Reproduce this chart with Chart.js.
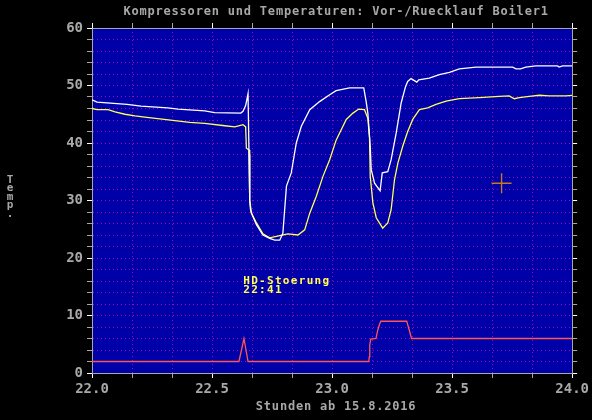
<!DOCTYPE html>
<html>
<head>
<meta charset="utf-8">
<script src="https://cdn.jsdelivr.net/npm/chart.js@4/dist/chart.umd.min.js"></script>
<style>
  html, body { margin: 0; padding: 0; background: #000; }
  #wrap { width: 592px; height: 420px; }
</style>
</head>
<body>
<div id="wrap"><canvas id="boilerChart" width="592" height="420"></canvas></div>
<script>
// Beschriftungen
const chartTitle = 'Kompressoren und Temperaturen: Vor-/Ruecklauf Boiler1';
const xAxisTitle = 'Stunden ab 15.8.2016';
const yAxisTitle = 'Temp.';
const xTickLabels = ['22.0', '22.5', '23.0', '23.5', '24.0'];
const yTickLabels = ['0', '10', '20', '30', '40', '50', '60'];

// Vorlauf (weiss)
const vorlaufStunden = [22.000, 22.021, 22.146, 22.204, 22.316, 22.358, 22.470, 22.511, 22.620, 22.629,
  22.640, 22.650, 22.654, 22.657, 22.660, 22.664, 22.685, 22.712, 22.740, 22.761,
  22.782, 22.795, 22.810, 22.830, 22.851, 22.872, 22.907, 22.948, 22.990, 23.017,
  23.073, 23.132, 23.142, 23.149, 23.159, 23.163, 23.177, 23.200, 23.209, 23.232,
  23.246, 23.267, 23.288, 23.306, 23.315, 23.329, 23.353, 23.361, 23.405, 23.447,
  23.489, 23.530, 23.600, 23.752, 23.766, 23.785, 23.807, 23.849, 23.939, 23.946,
  23.960, 24.000];
const vorlauf = [47.5, 47.1, 46.7, 46.4, 46.1, 45.9, 45.6, 45.3, 45.2, 45.5,
  46.5, 48.6, 38.0, 30.0, 28.5, 27.8, 25.8, 24.0, 23.4, 23.1,
  23.1, 24.3, 32.5, 34.8, 40.0, 42.9, 45.8, 47.2, 48.4, 49.1,
  49.6, 49.6, 47.2, 45.2, 39.4, 35.4, 33.0, 31.7, 34.8, 35.0,
  37.1, 41.7, 47.0, 49.8, 50.7, 51.2, 50.6, 51.0, 51.3, 51.9,
  52.3, 52.9, 53.2, 53.2, 52.9, 52.9, 53.2, 53.4, 53.4, 53.2,
  53.4, 53.4];

// Ruecklauf (gelb)
const ruecklaufStunden = [22.000, 22.021, 22.067, 22.096, 22.137, 22.179, 22.220, 22.283, 22.345, 22.407,
  22.470, 22.553, 22.595, 22.629, 22.640, 22.643, 22.654, 22.657, 22.664, 22.685,
  22.712, 22.740, 22.782, 22.816, 22.858, 22.886, 22.907, 22.934, 22.962, 22.990,
  23.017, 23.059, 23.087, 23.111, 23.135, 23.149, 23.156, 23.159, 23.170, 23.184,
  23.211, 23.232, 23.246, 23.260, 23.274, 23.294, 23.315, 23.336, 23.364, 23.398,
  23.433, 23.475, 23.530, 23.613, 23.696, 23.738, 23.759, 23.780, 23.821, 23.863,
  23.904, 23.974, 24.000];
const ruecklauf = [46.0, 45.8, 45.8, 45.4, 45.0, 44.7, 44.5, 44.2, 43.9, 43.6,
  43.4, 43.0, 42.8, 43.2, 42.8, 39.1, 38.8, 30.1, 27.8, 26.1,
  24.2, 23.5, 23.9, 24.2, 24.0, 24.9, 27.8, 30.7, 34.2, 37.1,
  40.5, 44.1, 45.2, 45.9, 45.8, 44.3, 40.9, 34.2, 29.6, 27.0,
  25.2, 26.1, 28.4, 33.6, 36.5, 39.4, 42.0, 44.1, 45.8, 46.1,
  46.7, 47.3, 47.7, 47.9, 48.1, 48.2, 47.7, 47.9, 48.1, 48.3,
  48.2, 48.2, 48.3];

// Kompressoren (rot)
const kompressorStunden = [22.000, 22.612, 22.633, 22.650, 23.153, 23.155, 23.157, 23.161,
  23.183, 23.190, 23.197, 23.203, 23.311, 23.322, 23.331, 24.000];
const kompressor = [2, 2, 6, 2, 2, 2.8, 4.9, 5.9, 6, 7.4, 8.4, 9, 9, 7.4, 6, 6];

// Markierung + Hinweis
const markerX = [23.706];
const markerY = [33.0];
const noteText = ['HD-Stoerung', '22:41'];
const noteX = [22.63, 22.63];
const noteY = [15.9, 14.4];

const FONT = '"DejaVu Sans Mono", "Liberation Mono", monospace';
const GRAU = '#A8A8A8';

const toPoints = (xs, ys) => xs.map((x, i) => ({ x: x, y: ys[i] }));

const xMin = parseFloat(xTickLabels[0]);
const xMax = parseFloat(xTickLabels[xTickLabels.length - 1]);
const yMin = parseFloat(yTickLabels[0]);
const yMax = parseFloat(yTickLabels[yTickLabels.length - 1]);

const isXLabel = v => xTickLabels.some(l => Math.abs(parseFloat(l) - v) < 1e-6);
const isYLabel = v => yTickLabels.some(l => Math.abs(parseFloat(l) - v) < 1e-6);

// 10-Minuten-Ticks
const buildXTicks = scale => {
  const ticks = [];
  for (let i = 0; i <= (xMax - xMin) * 6; i++) ticks.push({ value: xMin + i / 6 });
  scale.ticks = ticks;
};

const gridColor = ctx => {
  const v = ctx.tick ? ctx.tick.value : null;
  const s = ctx.scale;
  if (v === null || Math.abs(v - s.min) < 1e-6 || Math.abs(v - s.max) < 1e-6) return 'rgba(0,0,0,0)';
  return '#B000B0';
};

const hintergrund = {
  id: 'hintergrund',
  beforeDraw(chart) {
    const { ctx, chartArea: a } = chart;
    ctx.save();
    ctx.fillStyle = '#000';
    ctx.fillRect(0, 0, chart.width, chart.height);
    ctx.fillStyle = '#0000A8';
    ctx.fillRect(a.left, a.top, a.right - a.left, a.bottom - a.top);
    ctx.restore();
  }
};

const texte = {
  id: 'texte',
  afterDraw(chart) {
    const { ctx, chartArea: a, scales } = chart;
    ctx.save();
    ctx.fillStyle = GRAU;
    ctx.font = 'bold 12px ' + FONT;
    ctx.letterSpacing = '0.8px';
    ctx.textAlign = 'center';
    ctx.textBaseline = 'middle';
    ctx.fillText(chartTitle, (a.left + a.right) / 2 + 4, 12);
    ctx.fillText(xAxisTitle, (a.left + a.right) / 2 + 4, 407);

    ctx.letterSpacing = '0px';
    ctx.font = 'bold 11px ' + FONT;
    [...yAxisTitle].forEach((ch, i) => ctx.fillText(ch, 10, 180 + i * 8.5));

    ctx.fillStyle = '#FFFF55';
    ctx.font = 'bold 11px ' + FONT;
    ctx.letterSpacing = '1.3px';
    ctx.textAlign = 'left';
    noteText.forEach((t, i) => {
      ctx.fillText(t, scales.x.getPixelForValue(noteX[i]), scales.y.getPixelForValue(noteY[i]));
    });
    ctx.restore();
  }
};

const ctx = document.getElementById('boilerChart').getContext('2d');

new Chart(ctx, {
  type: 'line',
  data: {
    datasets: [
      {
        label: 'Vorlauf',
        data: toPoints(vorlaufStunden, vorlauf),
        borderColor: '#FFFFFF',
        borderWidth: 1.3,
        pointRadius: 0,
        tension: 0
      },
      {
        label: 'Ruecklauf',
        data: toPoints(ruecklaufStunden, ruecklauf),
        borderColor: '#FFFF55',
        borderWidth: 1.3,
        pointRadius: 0,
        tension: 0
      },
      {
        label: 'Kompressoren',
        data: toPoints(kompressorStunden, kompressor),
        borderColor: '#FF5555',
        borderWidth: 1.3,
        pointRadius: 0,
        tension: 0
      },
      {
        type: 'scatter',
        label: 'Marker',
        data: toPoints(markerX, markerY),
        pointStyle: 'cross',
        pointRadius: 10,
        borderColor: '#C8781E',
        borderWidth: 1.4
      }
    ]
  },
  options: {
    responsive: false,
    animation: false,
    events: [],
    layout: { padding: 0 },
    plugins: {
      legend: { display: false },
      tooltip: { enabled: false },
      title: { display: false }
    },
    scales: {
      x: {
        type: 'linear',
        position: 'bottom',
        min: xMin,
        max: xMax,
        afterBuildTicks: buildXTicks,
        afterFit: s => { s.height = 47; },
        ticks: {
          autoSkip: false,
          maxRotation: 0,
          padding: 3,
          color: GRAU,
          font: { family: FONT, size: 14, weight: 'bold' },
          callback: v => {
            const l = xTickLabels.find(t => Math.abs(parseFloat(t) - v) < 1e-6);
            return l || '';
          }
        },
        grid: {
          color: gridColor,
          lineWidth: 1,
          tickLength: 5,
          tickColor: c => isXLabel(c.tick.value) ? '#FFFFFF' : GRAU
        },
        border: { color: GRAU, width: 1, dash: [1, 3] }
      },
      x2: {
        type: 'linear',
        position: 'top',
        min: xMin,
        max: xMax,
        afterBuildTicks: buildXTicks,
        afterFit: s => { s.height = 28; },
        ticks: { autoSkip: false, callback: () => '' },
        grid: {
          drawOnChartArea: false,
          tickLength: 5,
          tickColor: c => isXLabel(c.tick.value) ? '#FFFFFF' : GRAU
        },
        border: { color: GRAU, width: 1 }
      },
      y: {
        type: 'linear',
        position: 'left',
        min: yMin,
        max: yMax,
        afterFit: s => { s.width = 92; },
        ticks: {
          stepSize: 2,
          autoSkip: false,
          padding: 4,
          color: GRAU,
          font: { family: FONT, size: 14, weight: 'bold' },
          callback: v => isYLabel(v) ? String(v) : ''
        },
        grid: {
          color: gridColor,
          lineWidth: 1,
          tickLength: 5,
          tickColor: c => isYLabel(c.tick.value) ? '#FFFFFF' : GRAU
        },
        border: { color: GRAU, width: 1, dash: [1, 3] }
      },
      y2: {
        type: 'linear',
        position: 'right',
        min: yMin,
        max: yMax,
        afterFit: s => { s.width = 19; },
        ticks: { stepSize: 2, autoSkip: false, callback: () => '' },
        grid: {
          drawOnChartArea: false,
          tickLength: 5,
          tickColor: c => isYLabel(c.tick.value) ? '#FFFFFF' : GRAU
        },
        border: { color: GRAU, width: 1 }
      }
    }
  },
  plugins: [hintergrund, texte]
});
</script>
</body>
</html>
